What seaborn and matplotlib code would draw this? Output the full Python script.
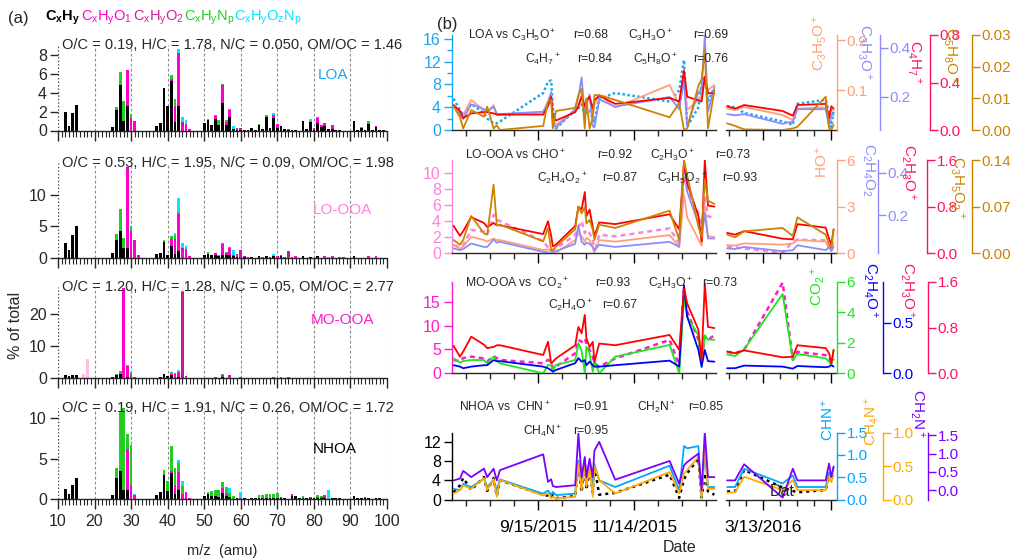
import pandas as pd
import seaborn as sns
import matplotlib.pyplot as plt
from matplotlib.ticker import FormatStrFormatter

W, H = 1011, 558

# ---------------- (a) factor mass spectra, % of total, per ion family ----------------
FAMILIES = ["CxHy", "CxHyO1", "CxHyO2", "CxHyNp", "CxHyOzNp", "HxO"]
FAM_COLORS = ["#000000", "#ff00cc", "#c8189a", "#22cc22", "#00e8ff", "#ffbfe6"]

loa_hc = {12: 2.0, 13: 0.5, 14: 1.9, 15: 2.75, 25: 0.4, 26: 2.2, 27: 4.8, 28: 1.0, 29: 2.6,
          37: 0.5, 38: 0.8, 39: 4.5, 40: 2.6, 41: 5.3, 42: 0.9, 43: 2.6, 50: 0.8, 51: 1.1,
          52: 0.6, 53: 1.2, 54: 0.6, 55: 2.9, 56: 0.6, 57: 1.4, 58: 0.2, 59: 0.1, 60: 0.1,
          61: 0.1, 62: 0.1, 63: 0.3, 64: 0.1, 65: 0.6, 66: 0.2, 67: 1.4, 68: 0.3, 69: 1.3,
          70: 0.3, 71: 0.5, 72: 0.2, 73: 0.1, 74: 0.1, 75: 0.1, 77: 1.0, 78: 0.2, 79: 0.9,
          80: 0.1, 81: 0.8, 82: 0.4, 83: 0.5, 84: 0.2, 85: 0.2, 86: 0.1, 87: 0.1, 91: 1.0,
          92: 0.1, 93: 0.3, 94: 0.1, 95: 0.7, 96: 0.1, 97: 0.4, 98: 0.1, 99: 0.1}
loa_o1 = {29: 3.8, 30: 1.3, 31: 1.0, 41: 0.2, 42: 1.7, 43: 5.6, 44: 0.5, 45: 0.7, 46: 0.2,
          53: 0.3, 55: 1.9, 56: 0.3, 57: 0.8, 59: 0.2, 60: 0.1, 69: 0.4, 70: 0.4, 73: 0.1,
          80: 0.2, 81: 0.5, 82: 0.2, 83: 0.3, 85: 0.4, 97: 0.1}
loa_o2 = {44: 0.4, 60: 0.1}
loa_n = {26: 0.3, 27: 1.4, 28: 2.1, 30: 0.5, 41: 0.4, 42: 0.7, 51: 0.1, 53: 0.2, 54: 0.5,
         55: 0.2, 56: 0.2, 57: 0.1, 65: 0.1, 67: 0.2, 79: 0.1, 81: 0.1, 93: 0.1, 95: 0.3}
loa_on = {43: 0.5, 44: 0.5, 45: 0.4, 58: 0.3, 69: 0.2, 79: 0.2}

lo_hc = {12: 2.3, 13: 1.3, 14: 3.6, 15: 5.0, 25: 0.8, 26: 2.9, 27: 4.2, 28: 1.5, 29: 1.5,
         37: 0.6, 38: 0.7, 39: 2.5, 40: 0.5, 41: 1.9, 42: 0.6, 43: 1.0, 50: 0.5, 51: 0.6,
         52: 0.5, 53: 0.4, 54: 0.3, 55: 0.5, 56: 0.4, 57: 0.5, 58: 0.2, 59: 0.1, 61: 0.1,
         63: 0.1, 65: 0.2, 67: 0.2, 69: 0.2, 71: 0.2, 77: 0.2, 79: 0.1, 81: 0.2, 91: 0.2}
lo_o1 = {29: 12.9, 30: 4.3, 31: 2.9, 32: 0.5, 41: 1.1, 42: 2.4, 43: 6.0, 44: 1.3, 45: 1.4,
         46: 0.2, 53: 0.4, 55: 1.7, 56: 0.3, 57: 1.0, 58: 0.3, 59: 0.5, 61: 0.1, 62: 0.1,
         66: 0.1, 68: 0.1, 69: 0.1, 70: 0.2, 71: 0.2, 72: 0.1, 73: 0.1, 75: 0.2, 83: 0.2,
         85: 0.2, 87: 0.1, 95: 0.2, 97: 0.2}
lo_o2 = {44: 0.2, 60: 1.3, 73: 0.9, 74: 0.1, 88: 0.1}
lo_n = {26: 0.8, 27: 3.6, 28: 1.7, 30: 0.8, 39: 0.3, 41: 0.4, 42: 0.6, 43: 0.3, 51: 0.3,
        54: 0.1, 55: 0.2, 56: 0.2, 57: 0.2, 67: 0.1}
lo_on = {42: 0.4, 43: 2.2, 44: 0.8, 45: 0.5, 58: 0.7, 69: 0.3, 84: 0.1}

mo_hc = {12: 1.0, 13: 0.6, 14: 1.0, 15: 1.0, 25: 0.3, 26: 1.0, 27: 1.2, 29: 0.3, 37: 0.2,
         38: 0.5, 39: 1.2, 40: 0.6, 41: 1.0, 42: 0.2, 43: 0.3, 51: 0.2, 53: 0.2, 55: 0.3,
         57: 0.2, 65: 0.1, 67: 0.2, 69: 0.2, 77: 0.2, 91: 0.1}
mo_o1 = {28: 28.2, 29: 3.5, 30: 1.0, 31: 0.5, 41: 0.3, 42: 1.0, 43: 1.8, 45: 0.7, 53: 0.2,
         55: 0.6, 57: 0.7, 59: 0.2, 61: 0.2, 69: 0.3, 71: 0.3, 73: 0.2, 81: 0.2, 85: 0.2,
         95: 0.2}
mo_o2 = {44: 27.0, 46: 0.2, 60: 0.3, 73: 0.1}
mo_n = {26: 0.3, 27: 1.2, 30: 1.0, 41: 0.7, 42: 0.3, 44: 0.2, 55: 0.3}
mo_on = {29: 0.2, 43: 0.5, 44: 0.1}
mo_hxo = {17: 1.3, 18: 6.0}

nh_hc = {12: 1.3, 13: 0.7, 14: 1.8, 15: 2.65, 25: 0.5, 26: 2.6, 27: 3.5, 28: 1.1, 29: 1.2,
         37: 0.5, 38: 0.9, 39: 3.0, 40: 1.0, 41: 3.2, 42: 0.7, 43: 1.1, 50: 0.4, 51: 0.6,
         52: 0.4, 53: 0.4, 54: 0.3, 55: 0.8, 56: 0.4, 57: 0.3, 59: 0.1, 61: 0.2, 63: 0.2,
         64: 0.1, 65: 0.1, 66: 0.2, 67: 0.2, 68: 0.1, 69: 0.2, 70: 0.1, 71: 0.1, 72: 0.1,
         74: 0.4, 75: 0.4, 76: 0.1, 77: 0.2, 78: 0.2, 79: 0.2, 80: 0.1, 81: 0.1, 82: 0.1,
         83: 0.1, 85: 0.2, 86: 0.1, 87: 0.1, 91: 0.4, 92: 0.1, 93: 0.1, 94: 0.2, 95: 0.2,
         97: 0.1, 98: 0.1}
nh_o1 = {29: 5.0, 30: 1.8, 31: 0.5, 41: 0.3, 42: 1.0, 43: 2.2, 44: 0.6, 45: 0.9, 46: 0.2,
         55: 0.6, 56: 0.2, 59: 0.1, 71: 0.2, 74: 0.3, 79: 0.1, 80: 0.1, 81: 0.2, 82: 0.2,
         83: 0.4, 94: 0.1, 97: 0.1}
nh_o2 = {60: 0.1}
nh_n = {26: 1.3, 27: 7.3, 28: 10.1, 29: 1.8, 30: 4.9, 39: 0.6, 40: 1.2, 41: 3.1, 42: 2.2,
        43: 1.2, 44: 1.0, 51: 0.3, 52: 0.6, 53: 0.7, 54: 0.9, 55: 0.7, 56: 0.9, 57: 0.5,
        58: 0.4, 65: 0.4, 66: 0.3, 67: 0.5, 68: 0.6, 69: 0.4, 70: 0.7, 77: 0.2, 81: 0.2,
        82: 0.1, 93: 0.1}
nh_on = {31: 0.2, 43: 0.3, 44: 0.7, 57: 0.6, 60: 0.8, 84: 1.1}

# ---------------- (b) time series: factor vs marker ions ----------------
left_dates = ["2015-07-24", "2015-07-28", "2015-07-30", "2015-08-04", "2015-08-12",
              "2015-08-14", "2015-08-18", "2015-08-20", "2015-08-22", "2015-09-18",
              "2015-09-21", "2015-09-23", "2015-09-24", "2015-09-26", "2015-10-08",
              "2015-10-10", "2015-10-12", "2015-10-14", "2015-10-15", "2015-10-17",
              "2015-10-19", "2015-10-20", "2015-10-23", "2015-11-02", "2015-12-06",
              "2015-12-12", "2015-12-15", "2015-12-17", "2015-12-24", "2015-12-26",
              "2015-12-28", "2015-12-30", "2016-01-03"]
right_dates = ["2016-02-10", "2016-02-17", "2016-02-25", "2016-03-30", "2016-04-08",
               "2016-04-12", "2016-05-07", "2016-05-10", "2016-05-12", "2016-05-14"]

loa_L = [5.5, 3.5, 2.6, 4.6, 3.0, 2.0, 1.2, 1.2, 1.5, 6.5, 8.5, 8.7, 4.0, 0.3, 3.5, 3.8, 4.5,
         2.5, 3.0, 3.5, 2.0, 1.5, 5.5, 6.5, 5.0, 7.0, 12.3, 0.6, 4.0, 8.0, 9.5, 5.0, 7.5]
loa_R = [4.2, 4.0, 3.0, 1.5, 0.9, 4.6, 5.3, 3.0, 0.5, 3.5]
c3h5o_L = [0.065, 0.055, 0.05, 0.08, 0.06, 0.055, 0.07, 0.05, 0.05, 0.055, 0.07, 0.08, 0.04,
           0.03, 0.06, 0.07, 0.09, 0.06, 0.075, 0.085, 0.05, 0.07, 0.09, 0.065, 0.11, 0.07,
           0.12, 0.06, 0.08, 0.09, 0.12, 0.1, 0.11]
c3h5o_R = [0.063, 0.06, 0.066, 0.05, 0.04, 0.063, 0.065, 0.04, 0.06, 0.06]
c3h3o_L = [0.16, 0.13, 0.11, 0.17, 0.15, 0.14, 0.16, 0.13, 0.13, 0.14, 0.18, 0.22, 0.09, 0.075,
           0.15, 0.2, 0.28, 0.12, 0.17, 0.21, 0.08, 0.075, 0.19, 0.16, 0.2, 0.15, 0.27, 0.08,
           0.22, 0.23, 0.45, 0.14, 0.24]
c3h3o_R = [0.13, 0.125, 0.13, 0.09, 0.10, 0.15, 0.15, 0.08, 0.13, 0.125]
c4h7_L = [0.21, 0.16, 0.10, 0.14, 0.15, 0.15, 0.14, 0.13, 0.13, 0.13, 0.20, 0.28, 0.12, 0.08,
          0.15, 0.20, 0.28, 0.20, 0.25, 0.28, 0.18, 0.25, 0.29, 0.22, 0.27, 0.24, 0.50, 0.28,
          0.25, 0.24, 0.45, 0.31, 0.31]
c4h7_R = [0.20, 0.18, 0.21, 0.16, 0.12, 0.21, 0.22, 0.10, 0.20, 0.18]
c5h8o_L = [0.0075, 0.004, 0.0005, 0.0063, 0.0042, 0.0074, 0.0005, 0.0015, 0.0, 0.0013, 0.009,
           0.0095, 0.0005, 0.006, 0.007, 0.011, 0.013, 0.0005, 0.01, 0.0005, 0.004, 0.011,
           0.011, 0.0095, 0.004, 0.0085, 0.0, 0.0005, 0.014, 0.016, 0.025, 0.0005, 0.0125]
c5h8o_R = [0.0021, 0.0013, 0.0002, 0.0, 0.0005, 0.001, 0.0105, 0.0005, 0.0, 0.0016]

looa_L = [1.0, 0.8, 1.0, 2.9, 2.7, 2.3, 4.8, 4.2, 4.0, 1.5, 0.75, 0.4, 0.4, 0.6, 2.3, 3.3, 4.0,
          2.5, 2.9, 2.5, 1.7, 0.0, 2.3, 2.1, 3.1, 1.25, 9.6, 7.9, 5.0, 2.9, 7.0, 4.6, 4.4]
looa_R = [0.8, 0.75, 0.6, 0.05, 1.45, 1.7, 1.6, 0.6, 1.25, 1.4]
cho_L = [0.53, 0.3, 0.43, 1.06, 0.85, 0.75, 0.95, 0.85, 0.85, 0.21, 0.25, 0.15, 0.1, 0.05,
         0.85, 1.3, 1.1, 0.75, 1.0, 0.85, 0.4, 0.05, 0.85, 0.75, 1.17, 0.43, 3.8, 2.3, 0.9,
         0.5, 3.0, 1.1, 1.05]
cho_R = [0.53, 0.5, 0.64, 0.55, 0.64, 0.85, 0.75, 0.3, 0.25, 0.64]
c2h4o2_L = [0.043, 0.035, 0.04, 0.066, 0.05, 0.05, 0.085, 0.07, 0.074, 0.027, 0.025, 0.02,
            0.025, 0.03, 0.065, 0.15, 0.075, 0.06, 0.07, 0.065, 0.05, 0.035, 0.06, 0.05, 0.074,
            0.05, 0.45, 0.31, 0.16, 0.1, 0.21, 0.09, 0.09]
c2h4o2_R = [0.043, 0.04, 0.05, 0.03, 0.035, 0.058, 0.035, 0.05, 0.03, 0.05]
c2h3o_lo_L = [0.47, 0.30, 0.38, 0.62, 0.52, 0.45, 0.52, 0.48, 0.48, 0.33, 0.55, 0.30, 0.12,
              0.15, 0.47, 0.80, 0.75, 1.05, 0.64, 0.75, 0.45, 0.30, 0.53, 0.50, 0.67, 0.41,
              1.55, 1.2, 0.64, 0.2, 1.6, 0.82, 0.8]
c2h3o_lo_R = [0.35, 0.32, 0.38, 0.25, 0.24, 0.5, 0.44, 0.25, 0.15, 0.41]
c3h5o2_L = [0.02, 0.013, 0.02, 0.056, 0.03, 0.028, 0.103, 0.042, 0.043, 0.018, 0.038, 0.004,
            0.005, 0.01, 0.036, 0.07, 0.06, 0.069, 0.045, 0.05, 0.035, 0.02, 0.043, 0.038,
            0.064, 0.02, 0.14, 0.117, 0.04, 0.025, 0.11, 0.079, 0.074]
c3h5o2_R = [0.028, 0.024, 0.033, 0.038, 0.026, 0.054, 0.028, 0.013, 0.008, 0.036]

mo_L = [2.8, 2.5, 3.2, 3.5, 3.1, 2.5, 3.6, 3.2, 2.8, 2.1, 2.8, 2.4, 1.0, 1.4, 4.2, 7.0, 6.6,
        7.3, 6.3, 4.9, 3.5, 2.1, 1.4, 3.1, 7.0, 1.7, 17.8, 13.0, 7.0, 2.8, 7.7, 7.0, 8.0]
mo_R = [4.5, 4.2, 4.9, 19.0, 2.8, 4.5, 3.8, 3.4, 2.1, 3.0]
co2_L = [0.98, 0.7, 0.8, 0.87, 0.87, 0.65, 1.09, 0.8, 0.65, 0.0, 0.55, 0.5, 0.2, 0.55, 0.87,
         1.97, 1.5, 0.0, 1.75, 1.3, 0.1, 0.87, 0.0, 1.09, 1.86, 0.0, 5.0, 3.7, 2.5, 0.4, 2.5,
         2.2, 2.2]
co2_R = [1.24, 1.13, 1.57, 5.2, 0.87, 1.27, 0.98, 0.76, 0.55, 1.5]
c2h4o_L = [0.08, 0.066, 0.05, 0.066, 0.08, 0.08, 0.13, 0.12, 0.12, 0.066, 0.05, 0.03, 0.016,
           0.033, 0.1, 0.15, 0.115, 0.13, 0.08, 0.115, 0.08, 0.066, 0.066, 0.08, 0.125, 0.066,
           0.87, 0.56, 0.23, 0.066, 0.23, 0.12, 0.115]
c2h4o_R = [0.05, 0.05, 0.076, 0.066, 0.046, 0.072, 0.06, 0.066, 0.08, 0.066]
c2h3o_mo_L = [0.48, 0.29, 0.38, 0.64, 0.5, 0.44, 0.46, 0.49, 0.49, 0.32, 0.55, 0.17, 0.2, 0.26,
              0.49, 0.81, 0.7, 1.02, 0.61, 0.46, 0.55, 0.2, 0.52, 0.49, 0.67, 0.41, 1.48, 1.22,
              0.76, 0.23, 1.57, 0.81, 0.79]
c2h3o_mo_R = [0.38, 0.35, 0.4, 0.28, 0.29, 0.49, 0.44, 0.35, 0.17, 0.41]

nhoa_L = [1.5, 3.0, 4.5, 2.0, 4.7, 1.8, 4.5, 0.7, 4.0, 1.0, 0.8, 0.4, 1.0, 0.3, 0.7, 7.6, 1.5,
          7.6, 2.0, 6.5, 1.5, 7.0, 1.0, 1.4, 5.2, 0.35, 4.2, 5.5, 8.6, 0.4, 5.5, 1.7, 1.0]
nhoa_R = [1.7, 1.7, 6.2, 2.5, 1.8, 1.5, 2.0, 4.8, 5.5, 5.2]
chn_L = [0.24, 0.21, 0.35, 0.28, 0.47, 0.28, 0.43, 0.2, 0.45, 0.13, 0.2, 0.1, 0.17, 0.1, 0.13,
         0.87, 0.3, 0.9, 0.32, 0.76, 0.3, 0.8, 0.43, 0.28, 0.76, 0.2, 1.2, 1.15, 1.2, 0.06,
         1.06, 0.28, 0.28]
chn_R = [0.28, 0.28, 0.69, 0.36, 0.54, 0.28, 0.28, 0.61, 0.5, 0.72]
ch4n_L = [0.09, 0.14, 0.21, 0.16, 0.32, 0.14, 0.31, 0.04, 0.29, 0.06, 0.09, 0.02, 0.04, 0.02,
          0.04, 0.54, 0.14, 0.51, 0.19, 0.49, 0.04, 0.51, 0.29, 0.09, 0.41, 0.09, 0.39, 0.44,
          0.64, 0.02, 0.81, 0.16, 0.16]
ch4n_R = [0.10, 0.11, 0.34, 0.14, 0.29, 0.14, 0.14, 0.34, 0.26, 0.36]
ch2n_L = [0.27, 0.32, 0.53, 0.36, 0.59, 0.36, 0.59, 0.27, 0.55, 0.98, 0.23, 0.3, 0.12, 0.09,
          0.14, 1.55, 0.36, 0.91, 0.36, 0.86, 0.36, 1.08, 1.32, 0.29, 0.8, 0.18, 0.68, 0.77,
          1.0, 0.0, 1.59, 0.36, 0.36]
ch2n_R = [0.27, 0.27, 0.71, -0.2, 0.59, 0.27, 0.27, 0.73, 0.36, 0.65]

# colours
LOA_C = "#1aa6f0"
LO_C = "#ff80dd"
MO_C = "#ff1acc"
SALMON = "#ffa07a"
LAV = "#8c8cff"
CRIMSON = "#ff1460"
RED = "#ff0000"
GOLD = "#cc8400"
GREEN = "#1ee61e"
BLUE = "#0000ff"
CHN_C = "#00a8ff"
CH4N_C = "#ffaa00"
CH2N_C = "#7a00ff"

sns.set_theme(style="ticks")
plt.rcParams["font.family"] = ["Liberation Sans", "DejaVu Sans"]
plt.rcParams["mathtext.fontset"] = "custom"
plt.rcParams["mathtext.rm"] = "Liberation Sans"
plt.rcParams["mathtext.it"] = "Liberation Sans:italic"
plt.rcParams["mathtext.bf"] = "Liberation Sans:bold"
plt.rcParams["axes.linewidth"] = 1.0

fig = plt.figure(figsize=(W / 100, H / 100), dpi=100)


def box(l, t, r, b):
    return [l / W, 1 - b / H, (r - l) / W, (b - t) / H]


def ftext(x, y, s, **kw):
    kw.setdefault("va", "center")
    kw.setdefault("fontsize", 10.5)
    fig.text(x / W, 1 - y / H, s, **kw)


# ---------------- panel (a) ----------------
spectra = [
    ([("CxHy", loa_hc), ("CxHyO1", loa_o1), ("CxHyO2", loa_o2), ("CxHyNp", loa_n),
      ("CxHyOzNp", loa_on)], 45, 130.5, 9.1, [0, 2, 4, 6, 8],
     "O/C = 0.19, H/C = 1.78, N/C = 0.050, OM/OC = 1.46", "LOA", LOA_C, (333, 75)),
    ([("CxHy", lo_hc), ("CxHyO1", lo_o1), ("CxHyO2", lo_o2), ("CxHyNp", lo_n),
      ("CxHyOzNp", lo_on)], 163, 257.7, 15.1, [0, 5, 10],
     "O/C = 0.53, H/C = 1.95, N/C = 0.09, OM/OC = 1.98", "LO-OOA", LO_C, (342, 210)),
    ([("CxHy", mo_hc), ("CxHyO1", mo_o1), ("CxHyO2", mo_o2), ("CxHyNp", mo_n),
      ("CxHyOzNp", mo_on), ("HxO", mo_hxo)], 286.7, 378.3, 28.5, [0, 10, 20],
     "O/C = 1.20, H/C = 1.28, N/C = 0.05, OM/OC = 2.77", "MO-OOA", MO_C, (342, 320)),
    ([("CxHy", nh_hc), ("CxHyO1", nh_o1), ("CxHyO2", nh_o2), ("CxHyNp", nh_n),
      ("CxHyOzNp", nh_on)], 408.3, 499.3, 11.2, [0, 5, 10],
     "O/C = 0.19, H/C = 1.91, N/C = 0.26, OM/OC = 1.72", "NHOA", "black", (335, 449)),
]

for i, (parts, top, bot, ymax, yticks, ratio, name, ncol, npos) in enumerate(spectra):
    ax = fig.add_axes(box(58, top, 387, bot))
    rows = [(12, f, 0.0) for f in FAMILIES]
    for fam, d in parts:
        rows += [(mz, fam, v) for mz, v in d.items()]
    df = pd.DataFrame(rows, columns=["mz", "family", "value"])
    # seaborn stacks the first hue level on top, so pass the families reversed
    sns.histplot(data=df, x="mz", weights="value", hue="family",
                 hue_order=FAMILIES[::-1], palette=FAM_COLORS[::-1],
                 multiple="stack", discrete=True, shrink=0.75, alpha=1,
                 linewidth=0, legend=False, ax=ax)
    ax.set_xlim(10, 100)
    ax.set_ylim(0, ymax)
    ax.set_xticks(range(10, 101, 10))
    ax.set_xticks(range(10, 101), minor=True)
    ax.set_yticks(yticks)
    for x in range(20, 101, 10):
        ax.axvline(x, color="#8a8a8a", lw=0.8, ls=(0, (2.5, 2)), zorder=0)
    ax.axvline(10, color="#444444", lw=1.0, ls=(0, (1, 1.5)), zorder=0)
    sns.despine(ax=ax, left=True)
    ax.tick_params(axis="x", which="major", length=7, width=1, labelsize=11.5)
    ax.tick_params(axis="x", which="minor", length=4.5, width=0.8)
    ax.tick_params(axis="y", length=6, width=1, labelsize=11.5, pad=2)
    if i < 3:
        ax.tick_params(axis="x", labelbottom=False)
    ax.set_xlabel("")
    ax.set_ylabel("")
    ax.set_facecolor("none")
    ftext(62, top, ratio)
    ftext(npos[0], npos[1], name, color=ncol, ha="center", fontsize=11)

ftext(8, 18, "(a)", fontsize=12)
legend_items = [(45, r"$\mathbf{C}_\mathbf{x}\mathbf{H}_\mathbf{y}$", "black"),
                (81, r"C$_\mathregular{x}$H$_\mathregular{y}$O$_1$", "#ff00cc"),
                (133, r"C$_\mathregular{x}$H$_\mathregular{y}$O$_2$", "#d0209a"),
                (184, r"C$_\mathregular{x}$H$_\mathregular{y}$N$_\mathregular{p}$", "#22cc22"),
                (234, r"C$_\mathregular{x}$H$_\mathregular{y}$O$_\mathregular{z}$N$_\mathregular{p}$", "#00e5ff")]
for x, s, c in legend_items:
    ftext(x, 18, s, color=c, fontsize=10.5)
ftext(15, 325, "% of total", rotation=90, ha="center", fontsize=11.5)
ftext(222, 551, "m/z  (amu)", ha="center", fontsize=10.5)


# ---------------- panel (b) ----------------
def draw(ax, dates, vals, color, ls="-", lw=1.3):
    df = pd.DataFrame({"date": pd.to_datetime(dates), "value": vals})
    sns.lineplot(data=df, x="date", y="value", ax=ax, color=color, linestyle=ls, linewidth=lw)
    ax.set_xlabel("")
    ax.set_ylabel("")


L_LIM = (pd.Timestamp("2015-07-23"), pd.Timestamp("2016-01-04"))
R_LIM = (pd.Timestamp("2016-02-09"), pd.Timestamp("2016-05-17"))
L_MAJ = pd.to_datetime(["2015-09-15", "2015-11-14"])
L_MIN = pd.to_datetime(["2015-08-01", "2015-08-16", "2015-08-31", "2015-09-30", "2015-10-15",
                        "2015-10-30", "2015-11-29", "2015-12-14", "2015-12-29"])
R_MAJ = pd.to_datetime(["2016-03-13", "2016-05-12"])
R_MIN = pd.to_datetime(["2016-02-12", "2016-02-27", "2016-03-28", "2016-04-12", "2016-04-27"])

panels = [
    dict(top=35, bot=130, main=(loa_L, loa_R), mcolor=LOA_C, mls=(0, (1, 1)),
         ylim=(0, 16.7), yticks=[0, 4, 8, 12, 16], yminor=[2, 6, 10, 14],
         extras=[(c3h5o_L, c3h5o_R, SALMON, SALMON, (0.02, 0.21), [0.1, 0.2], "%.1f", 0),
                 (c3h3o_L, c3h3o_R, LAV, LAV, (0.065, 0.453), [0.2, 0.4], "%.1f", 43),
                 (c4h7_L, c4h7_R, RED, CRIMSON, (0, 0.8), [0.0, 0.4, 0.8], "%.1f", 93),
                 (c5h8o_L, c5h8o_R, GOLD, GOLD, (0, 0.03), [0.0, 0.01, 0.02, 0.03], "%.2f", 135)],
         titles=[(r"C$_3$H$_5$O$^+$", 820, 43, 90, SALMON), (r"C$_3$H$_3$O$^+$", 864, 52, 270, LAV),
                 (r"C$_4$H$_7$$^+$", 914, 62, 270, CRIMSON), (r"C$_5$H$_8$O$^+$", 950, 55, 270, GOLD)],
         notes=[(468, 35, r"LOA vs C$_3$H$_5$O$^+$"), (573, 35, "r=0.68"),
                (628, 35, r"C$_3$H$_3$O$^+$"), (693, 35, "r=0.69"),
                (525, 59, r"C$_4$H$_7$$^+$"), (577, 59, "r=0.84"),
                (633, 59, r"C$_5$H$_8$O$^+$"), (693, 59, "r=0.76")]),
    dict(top=160, bot=253.3, main=(looa_L, looa_R), mcolor=LO_C, mls=(0, (2, 1.6)),
         ylim=(0, 11.6), yticks=[0, 2, 4, 6, 8, 10], yminor=[],
         extras=[(cho_L, cho_R, SALMON, SALMON, (0, 6), [0, 3, 6], "%d", 0),
                 (c2h4o2_L, c2h4o2_R, LAV, LAV, (0.02, 0.46), [0.2, 0.4], "%.1f", 41),
                 (c2h3o_lo_L, c2h3o_lo_R, RED, CRIMSON, (0, 1.6), [0.0, 0.8, 1.6], "%.1f", 90),
                 (c3h5o2_L, c3h5o2_R, GOLD, GOLD, (0, 0.14), [0.0, 0.07, 0.14], "%.2f", 135)],
         titles=[(r"HO$^+$", 822, 162, 90, SALMON), (r"C$_2$H$_4$O$_2$", 868, 170, 270, LAV),
                 (r"C$_2$H$_3$O$^+$", 908, 172, 270, CRIMSON),
                 (r"C$_3$H$_5$O$_2$$^+$", 957, 187, 270, GOLD)],
         notes=[(465, 155, r"LO-OOA vs CHO$^+$"), (597, 155, "r=0.92"),
                (650, 155, r"C$_2$H$_3$O$^+$"), (715, 155, "r=0.73"),
                (537, 178, r"C$_2$H$_4$O$_2$$^+$"), (602, 178, "r=0.87"),
                (657, 178, r"C$_3$H$_5$O$_2$$^+$"), (722, 178, "r=0.93")]),
    dict(top=281.7, bot=373.3, main=(mo_L, mo_R), mcolor=MO_C, mls=(0, (2, 1.6)),
         ylim=(0, 19.2), yticks=[0, 5, 10, 15], yminor=[],
         extras=[(co2_L, co2_R, GREEN, GREEN, (0, 6), [0, 2, 4, 6], "%d", 0),
                 (c2h4o_L, c2h4o_R, BLUE, BLUE, (0, 0.905), [0.0, 0.5], "%.1f", 46),
                 (c2h3o_mo_L, c2h3o_mo_R, RED, CRIMSON, (0, 1.6), [0.0, 0.8, 1.6], "%.1f", 91)],
         titles=[(r"CO$_2$$^+$", 818, 287, 90, GREEN), (r"C$_2$H$_4$O$^+$", 870, 290, 270, BLUE),
                 (r"C$_2$H$_3$O$^+$", 907, 290, 270, CRIMSON)],
         notes=[(465, 283, r"MO-OOA vs  CO$_2$$^+$"), (595, 283, "r=0.93"),
                (648, 283, r"C$_2$H$_3$O$^+$"), (702, 283, "r=0.73"),
                (548, 305, r"C$_2$H$_4$O$^+$"), (602, 305, "r=0.67")]),
    dict(top=432.7, bot=499.5, main=(nhoa_L, nhoa_R), mcolor="black", mls=(0, (1.2, 1.6)),
         ylim=(0, 14.0), yticks=[0, 4, 8, 12], yminor=[],
         extras=[(chn_L, chn_R, CHN_C, CHN_C, (0, 1.5), [0.0, 0.5, 1.0, 1.5], "%.1f", 0),
                 (ch4n_L, ch4n_R, CH4N_C, CH4N_C, (0, 1.0), [0.0, 0.5, 1.0], "%.1f", 46),
                 (ch2n_L, ch2n_R, CH2N_C, CH2N_C, (-0.25, 1.57), [0.0, 0.5, 1.0, 1.5], "%.1f", 91)],
         titles=[(r"CHN$^+$", 828, 420, 90, CHN_C), (r"CH$_4$N$^+$", 872, 421, 90, CH4N_C),
                 (r"CH$_2$N$^+$", 917, 414, 270, CH2N_C)],
         notes=[(459, 407, r"NHOA vs  CHN$^+$"), (573, 407, "r=0.91"),
                (637, 407, r"CH$_2$N$^+$"), (688, 407, "r=0.85"),
                (523, 431, r"CH$_4$N$^+$"), (573, 431, "r=0.95")]),
]

for k, p in enumerate(panels):
    axL = fig.add_axes(box(452, p["top"], 716, p["bot"]))
    axR = fig.add_axes(box(726, p["top"], 837, p["bot"]), sharey=axL)
    draw(axL, left_dates, p["main"][0], p["mcolor"], p["mls"], 1.8)
    draw(axR, right_dates, p["main"][1], p["mcolor"], p["mls"], 1.8)

    for vL, vR, lc, ac, ylim, ticks, fmt, off in p["extras"]:
        tL = axL.twinx()
        tR = axR.twinx()
        draw(tL, left_dates, vL, lc)
        draw(tR, right_dates, vR, lc)
        tL.set_ylim(ylim)
        tR.set_ylim(ylim)
        tL.axis("off")
        for s in ("left", "top", "bottom"):
            tR.spines[s].set_visible(False)
        tR.spines["right"].set_position(("outward", off * 0.72))
        tR.spines["right"].set_color(ac)
        tR.set_yticks(ticks)
        tR.yaxis.set_major_formatter(FormatStrFormatter(fmt))
        tR.tick_params(axis="y", colors=ac, labelsize=11, length=6, width=1, pad=1)

    for ax, lim, maj, mnr in ((axL, L_LIM, L_MAJ, L_MIN), (axR, R_LIM, R_MAJ, R_MIN)):
        ax.set_xlim(lim)
        ax.set_xticks(maj)
        ax.set_xticks(mnr, minor=True)
        ax.tick_params(axis="x", which="major", length=7, width=1, colors="black")
        ax.tick_params(axis="x", which="minor", length=4.5, width=1)
        ax.spines["top"].set_visible(False)
        ax.spines["right"].set_visible(False)
        ax.set_facecolor("none")
    axL.set_ylim(p["ylim"])
    axL.set_yticks(p["yticks"])
    if p["yminor"]:
        axL.set_yticks(p["yminor"], minor=True)
    axL.spines["left"].set_color(p["mcolor"])
    axL.tick_params(axis="y", which="both", colors=p["mcolor"], labelsize=11.5, length=6, width=1, pad=2)
    axL.tick_params(axis="y", which="minor", length=3.5)
    axR.spines["left"].set_visible(False)
    axR.tick_params(axis="y", which="both", left=False, labelleft=False)
    if k == 3:
        axL.set_xticklabels(["9/15/2015", "11/14/2015"])
        axR.set_xticklabels(["3/13/2016", ""])
        axL.tick_params(axis="x", labelsize=12.5, pad=8)
        axR.tick_params(axis="x", labelsize=12.5, pad=8)
    else:
        axL.tick_params(axis="x", labelbottom=False)
        axR.tick_params(axis="x", labelbottom=False)

    for s, x, y, rot, c in p["titles"]:
        ftext(x, y, s, rotation=rot, color=c, ha="center", fontsize=11)
    for x, y, s in p["notes"]:
        ftext(x, y, s, fontsize=8.7)

ftext(447, 25, "(b)", fontsize=12, ha="center")
ftext(680, 547, "Date", fontsize=11.5, ha="center")
ftext(782, 492, "Dat", fontsize=11.5, ha="center")

plt.savefig("out.png", dpi=100)
